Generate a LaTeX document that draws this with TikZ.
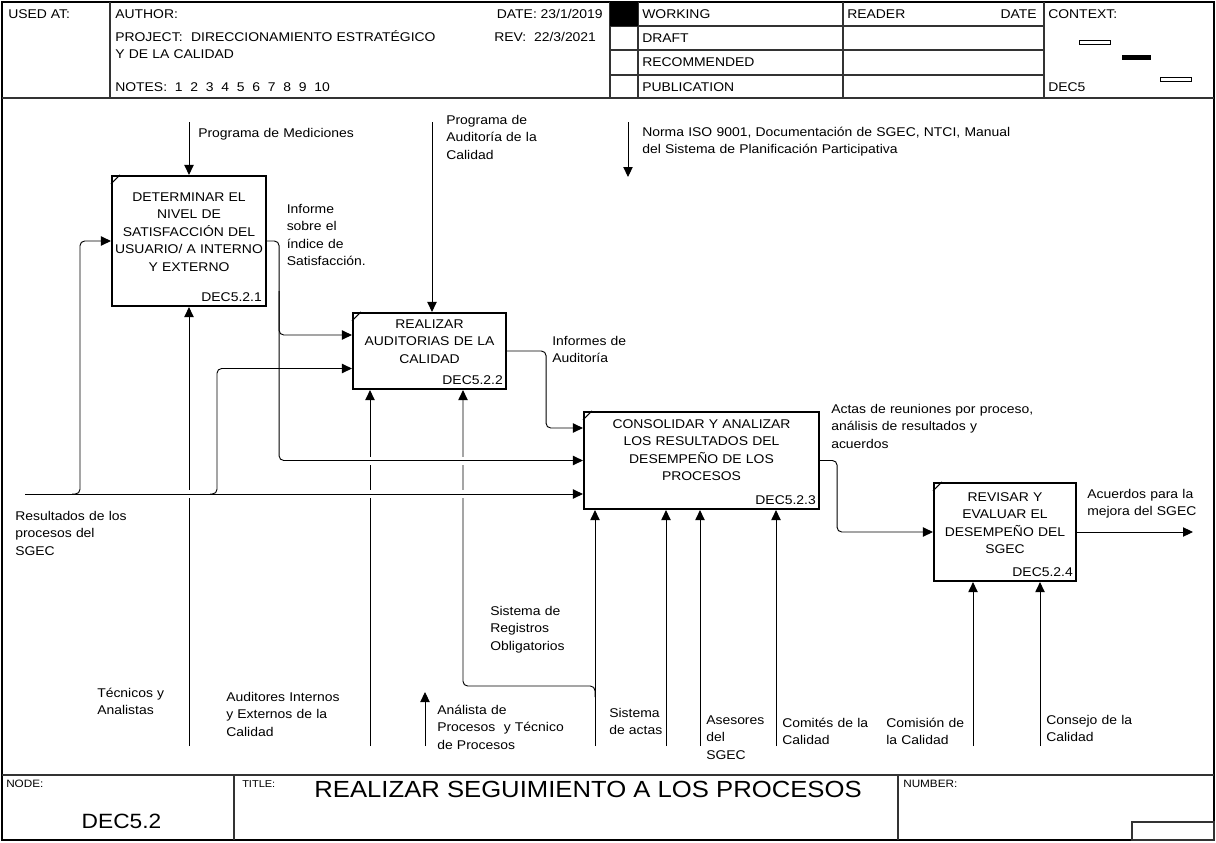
\documentclass[tikz,border=0pt]{standalone}
\usepackage{fontspec}
\setmainfont{Liberation Sans}[FakeStretch=1.1]
\usetikzlibrary{arrows.meta,positioning,calc}

\newcommand{\xgap}[1]{\fill[white] ($(#1)+(-2.5,-4)$) rectangle ($(#1)+(2.5,4)$);}

\begin{document}
\begin{tikzpicture}[x=0.75pt, y=-0.75pt,
    every node/.style={inner sep=0pt, font=\fontsize{9.5}{13.1}\selectfont},
    act/.style={draw, line width=1.6pt},
    acttext/.style={align=center, text width=200pt, anchor=base},
    actid/.style={anchor=base east},
    lbl/.style={align=left, text width=320pt, anchor=base west},
    small/.style={anchor=base west, font=\fontsize{8}{10}\selectfont},
    flow/.style={line width=0.7pt, rounded corners=3.5pt, -{Triangle[length=7.5pt,width=7pt]}},
    grid/.style={line width=0.8pt, black!80}]
    \useasboundingbox (0,0) rectangle (1216,842);

    \draw[line width=1pt] (2,2) rectangle (1214,840);
    \draw[grid] (2,98) -- (1214,98);
    \draw[grid] (2,775) -- (1214,775);
    \draw[grid] (110,2) -- (110,98);
    \draw[grid] (610,2) -- (610,98);
    \draw[grid] (638,2) -- (638,98);
    \draw[grid] (843,2) -- (843,98);
    \draw[grid] (1044,2) -- (1044,98);
    \draw[grid] (610,26) -- (1044,26);
    \draw[grid] (610,50) -- (1044,50);
    \draw[grid] (610,75) -- (1044,75);
    \fill (610,2) rectangle (638,26);
    \draw[grid] (234,775) -- (234,840);
    \draw[grid] (898,775) -- (898,840);
    \draw[grid] (1132,822) rectangle (1214,840);
    \draw[line width=0.6pt] (1079,40.5) rectangle (1110,44.5);
    \fill (1122,55) rectangle (1151,60);
    \draw[line width=0.6pt] (1160,77) rectangle (1191,81);

    \node[anchor=base west] (usedat) at (8,19) {USED AT:};
    \node[anchor=base west] (author) at (115,19) {AUTHOR:};
    \node[anchor=base east] (date) at (603,19) {DATE:~23/1/2019};
    \node[lbl] (project) at (115,41.5) {PROJECT:~~DIRECCIONAMIENTO ESTRATÉGICO\\Y DE LA CALIDAD};
    \node[anchor=base west] (rev) at (494,41.5) {REV:~~22/3/2021};
    \node[anchor=base west] (notes) at (115,91.5) {NOTES:~~1~~2~~3~~4~~5~~6~~7~~8~~9~~10};
    \node[anchor=base west] (working) at (642,18.5) {WORKING};
    \node[anchor=base west] (draft) at (642,43) {DRAFT};
    \node[anchor=base west] (recom) at (642,67) {RECOMMENDED};
    \node[anchor=base west] (public) at (642,91.5) {PUBLICATION};
    \node[anchor=base west] (reader) at (847,18.5) {READER};
    \node[anchor=base east] (rdate) at (1037,18.5) {DATE};
    \node[anchor=base west] (context) at (1048,18.5) {CONTEXT:};
    \node[anchor=base west] (cdec) at (1048,91.5) {DEC5};

    \node[small] (nodelbl) at (6,787) {NODE:};
    \node[anchor=base, font=\fontsize{15.5}{18}\selectfont] (nodeid) at (121.5,828) {DEC5.2};
    \node[small, font=\fontsize{7.5}{9}\selectfont] (titlelbl) at (242,787) {TITLE:};
    \node[anchor=base, font=\fontsize{17.5}{20}\selectfont] (title) at (588,797) {REALIZAR SEGUIMIENTO A LOS PROCESOS};
    \node[small] (number) at (903,787) {NUMBER:};

    \node[act, minimum width=115.5pt, minimum height=97.5pt] (a1) at (189,241) {};
    \node[act, minimum width=114.75pt, minimum height=57pt] (a2) at (429.5,351) {};
    \node[act, minimum width=176.25pt, minimum height=72.75pt] (a3) at (701.5,460.5) {};
    \node[act, minimum width=106.5pt, minimum height=73.5pt] (a4) at (1005,532) {};
    \draw[line width=0.9pt] ($(a1.north west)+(0,9)$) -- ++(9,-9);
    \draw[line width=0.9pt] ($(a2.north west)+(0,9)$) -- ++(9,-9);
    \draw[line width=0.9pt] ($(a3.north west)+(0,9)$) -- ++(9,-9);
    \draw[line width=0.9pt] ($(a4.north west)+(0,9)$) -- ++(9,-9);

    \node[acttext] (t1) at ($(a1.center)+(0,-39.5)$) {DETERMINAR EL\\NIVEL DE\\SATISFACCIÓN DEL\\USUARIO/ A INTERNO\\Y EXTERNO};
    \node[acttext] (t2) at ($(a2.center)+(0,-22.5)$) {REALIZAR\\AUDITORIAS DE LA\\CALIDAD};
    \node[acttext] (t3) at ($(a3.center)+(0,-32)$) {CONSOLIDAR Y ANALIZAR\\LOS RESULTADOS DEL\\DESEMPEÑO DE LOS\\PROCESOS};
    \node[acttext] (t4) at ($(a4.center)+(0,-30.5)$) {REVISAR Y\\EVALUAR EL\\DESEMPEÑO DEL\\SGEC};
    \node[actid] (id1) at ($(a1.south east)+(-5,-5.5)$) {DEC5.2.1};
    \node[actid] (id2) at ($(a2.south east)+(-4,-5.5)$) {DEC5.2.2};
    \node[actid] (id3) at ($(a3.south east)+(-4,-5.5)$) {DEC5.2.3};
    \node[actid] (id4) at ($(a4.south east)+(-4,-5.5)$) {DEC5.2.4};

    \coordinate (med) at (189,122);
    \coordinate (audp) at (432,122);
    \coordinate (iso) at (628,122);
    \coordinate (isoend) at (628,177);
    \coordinate (res) at (25,494);
    \coordinate (acu) at (1193,532);
    \coordinate (m1) at (189,746);
    \coordinate (m2) at (370,746);
    \coordinate (man) at (425,746);
    \coordinate (manend) at (425,692);
    \coordinate (m3a) at (595,746);
    \coordinate (m3b) at (666,746);
    \coordinate (m3c) at (700,746);
    \coordinate (m3d) at (776,746);
    \coordinate (m4a) at (973,746);
    \coordinate (m4b) at (1040,746);
    \coordinate (reg) at (595,697);
    \coordinate (regx) at (463,686);

    \draw[flow] (med) -- (a1.north);
    \draw[flow] (audp) -- (audp |- a2.north);
    \draw[flow] (iso) -- (isoend);
    \draw[flow] (m1) -- (m1 |- a1.south);
    \draw[flow] (m2) -- (m2 |- a2.south);
    \draw[flow] (reg) |- (regx) -- (regx |- a2.south);
    \draw[flow] (man) -- (manend);
    \draw[flow] (m3a) -- (m3a |- a3.south);
    \draw[flow] (m3b) -- (m3b |- a3.south);
    \draw[flow] (m3c) -- (m3c |- a3.south);
    \draw[flow] (m3d) -- (m3d |- a3.south);
    \draw[flow] (m4a) -- (m4a |- a4.south);
    \draw[flow] (m4b) -- (m4b |- a4.south);

    \coordinate (x1) at (m1 |- res);
    \coordinate (x2) at (m2 |- res);
    \coordinate (x3) at (regx |- res);
    \coordinate (x4) at (m2 |- a3.west);
    \coordinate (x5) at (regx |- a3.west);
    \xgap{x1}
    \xgap{x2}
    \xgap{x3}
    \xgap{x4}
    \xgap{x5}

    \draw[flow] (res) -- (res -| a3.west);
    \draw[flow] (a1.east) -- ++(12,0) |- ($(a2.west)+(0,-16)$);
    \draw[flow] ($(a1.east)+(12,50)$) |- (a3.west);
    \draw[flow] ($(res)+(47,0)$) -- ++(8,0) |- (a1.west);
    \draw[flow] ($(res)+(185,0)$) -- ++(7,0) |- ($(a2.west)+(0,17.5)$);
    \draw[flow] (a2.east) -- ++(39,0) |- ($(a3.west)+(0,-32.5)$);
    \draw[flow] (a3.east) -- ++(17,0) |- (a4.west);
    \draw[flow] (a4.east) -- (acu);

    \node[lbl] (lmed) at (198,137.5) {Programa de Mediciones};
    \node[lbl] (laud) at (446,124.5) {Programa de\\Auditoría de la\\Calidad};
    \node[lbl] (liso) at (642,136.5) {Norma ISO 9001, Documentación de SGEC, NTCI, Manual\\del Sistema de Planificación Participativa};
    \node[lbl] (linf) at (286.5,213.5) {Informe\\sobre el\\índice de\\Satisfacción.};
    \node[lbl] (linfa) at (552,345.5) {Informes de\\Auditoría};
    \node[lbl] (lactas) at (831,413.5) {Actas de reuniones por proceso,\\análisis de resultados y\\acuerdos};
    \node[lbl] (lacu) at (1087,498.5) {Acuerdos para la\\mejora del SGEC};
    \node[lbl] (lres) at (15,520.5) {Resultados de los\\procesos del\\SGEC};
    \node[lbl] (lreg) at (490,615.5) {Sistema de\\Registros\\Obligatorios};
    \node[lbl] (ltec) at (97,697.5) {Técnicos y\\Analistas};
    \node[lbl] (laudi) at (226,701.5) {Auditores Internos\\y Externos de la\\Calidad};
    \node[lbl] (lana) at (437,714.5) {Análista de\\Procesos~ y Técnico\\de Procesos};
    \node[lbl] (lact) at (609,717.5) {Sistema\\de actas};
    \node[lbl] (lase) at (706,724.5) {Asesores\\del\\SGEC};
    \node[lbl] (lcom) at (782,727.5) {Comités de la\\Calidad};
    \node[lbl] (lcmn) at (886,727.5) {Comisión de\\la Calidad};
    \node[lbl] (lcon) at (1046,724.5) {Consejo de la\\Calidad};
\end{tikzpicture}
\end{document}
